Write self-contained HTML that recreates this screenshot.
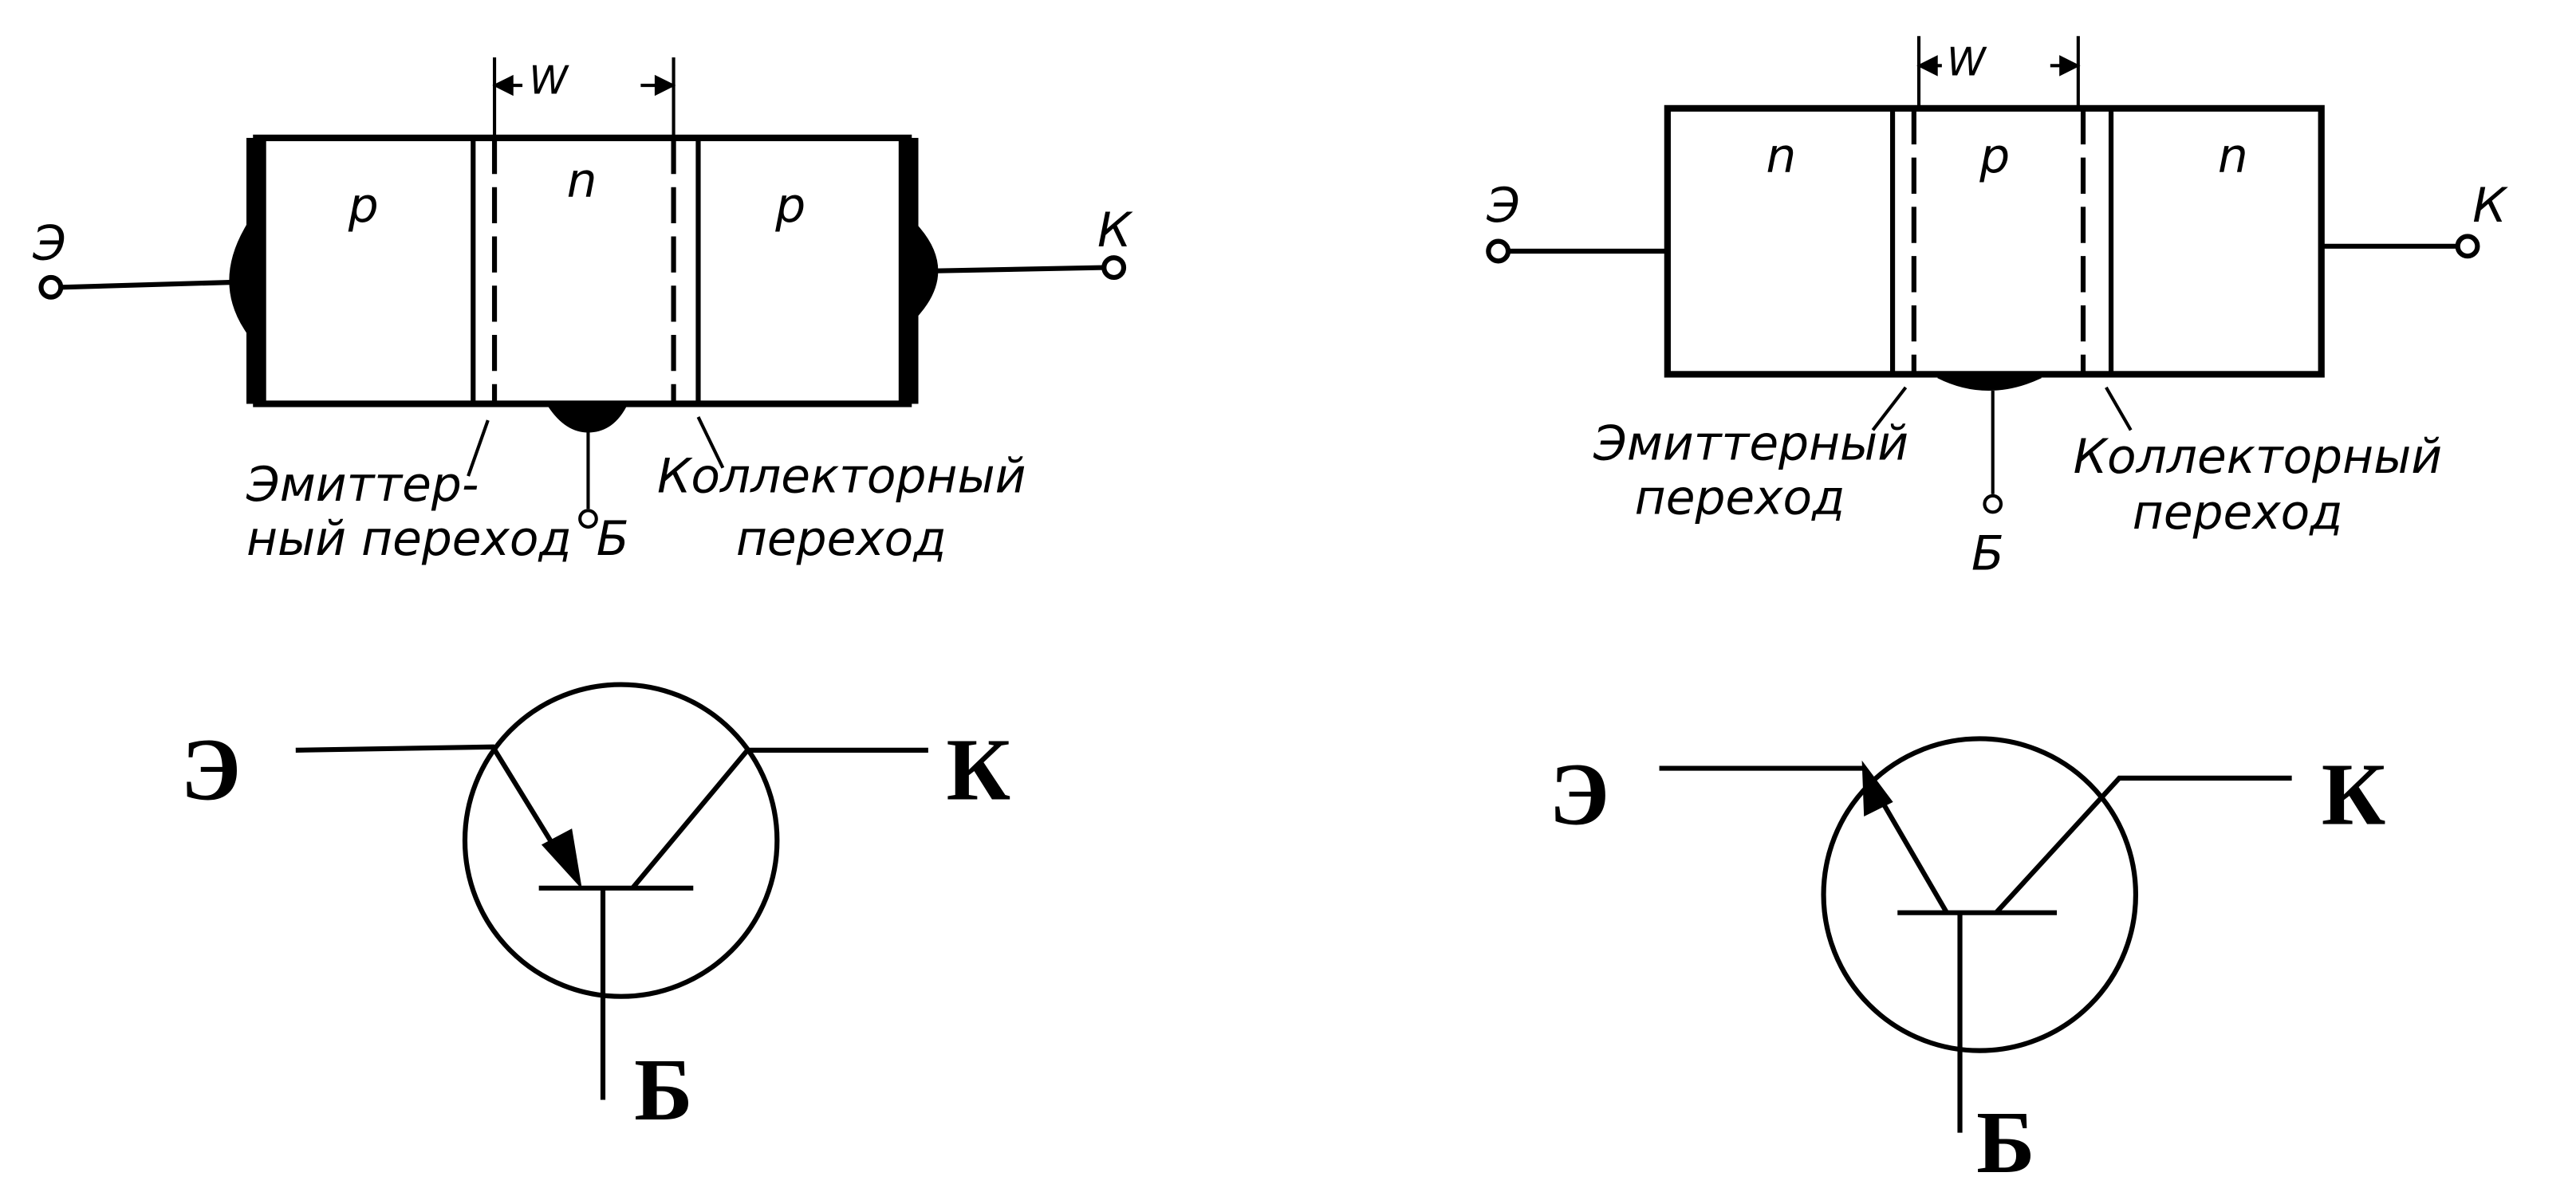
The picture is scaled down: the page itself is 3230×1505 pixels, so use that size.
<!DOCTYPE html>
<html><head><meta charset="utf-8"><style>
html,body{margin:0;padding:0;background:#fff;width:3230px;height:1505px;overflow:hidden}
svg{display:block}
.it{font-family:"DejaVu Sans","Liberation Sans",sans-serif;font-style:italic;font-size:29px;fill:#000}
.bl{font-family:"Liberation Serif",serif;font-weight:bold;font-size:54px;fill:#000}
</style></head><body>
<svg width="3230" height="1505" viewBox="0 0 1568 731" preserveAspectRatio="none" xmlns="http://www.w3.org/2000/svg">
<g stroke="#000" fill="none" stroke-width="3">
<rect x="156" y="84" width="397" height="162" stroke-width="4"/>
<rect x="150" y="84" width="12" height="162" fill="#000" stroke="none"/>
<rect x="547" y="84" width="12" height="162" fill="#000" stroke="none"/>
<path d="M150 140 Q132 172 150 200 Z" fill="#000"/>
<path d="M559 140 Q580 165 559 190 Z" fill="#000"/>
<line x1="288" y1="84" x2="288" y2="246"/>
<line x1="425" y1="84" x2="425" y2="246"/>
<line x1="301" y1="84" x2="301" y2="246" stroke-dasharray="22 8"/>
<line x1="410" y1="84" x2="410" y2="246" stroke-dasharray="22 8"/>
<line x1="301" y1="35" x2="301" y2="84" stroke-width="2"/>
<line x1="410" y1="35" x2="410" y2="84" stroke-width="2"/>
<line x1="303" y1="52" x2="318" y2="52" stroke-width="2"/><line x1="390" y1="52" x2="408" y2="52" stroke-width="2"/>
<path d="M303 52 l8 -4 v8 z M408 52 l-8 -4 v8z" fill="#000"/>
<line x1="37" y1="175" x2="140" y2="172"/>
<circle cx="31" cy="175" r="6" fill="#fff"/>
<line x1="570" y1="165" x2="672" y2="163"/>
<circle cx="678" cy="163" r="6" fill="#fff"/>
<path d="M335 247 Q345 262 358 262 Q372 262 380 247 Z" fill="#000"/>
<line x1="358" y1="260" x2="358" y2="310" stroke-width="2"/>
<circle cx="358" cy="316" r="5" fill="#fff" stroke-width="2"/>
<line x1="297" y1="256" x2="285" y2="290" stroke-width="2"/>
<line x1="425" y1="254" x2="440" y2="285" stroke-width="2"/>
<rect x="1015" y="66" width="398" height="162" stroke-width="4"/>
<line x1="1152" y1="66" x2="1152" y2="228"/>
<line x1="1285" y1="66" x2="1285" y2="228"/>
<line x1="1165" y1="66" x2="1165" y2="228" stroke-dasharray="22 8"/>
<line x1="1268" y1="66" x2="1268" y2="228" stroke-dasharray="22 8"/>
<line x1="1168" y1="22" x2="1168" y2="66" stroke-width="2"/>
<line x1="1265" y1="22" x2="1265" y2="66" stroke-width="2"/>
<line x1="1170" y1="40" x2="1182" y2="40" stroke-width="2"/><line x1="1248" y1="40" x2="1263" y2="40" stroke-width="2"/>
<path d="M1170 40 l8 -4 v8 z M1263 40 l-8 -4 v8z" fill="#000"/>
<line x1="918" y1="153" x2="1015" y2="153"/>
<circle cx="912" cy="153" r="6" fill="#fff"/>
<line x1="1413" y1="150" x2="1496" y2="150"/>
<circle cx="1502" cy="150" r="6" fill="#fff"/>
<path d="M1180 229 Q1210 244 1242 229 Z" fill="#000"/>
<line x1="1213" y1="238" x2="1213" y2="301" stroke-width="2"/>
<circle cx="1213" cy="307" r="5" fill="#fff" stroke-width="2"/>
<line x1="1160" y1="236" x2="1140" y2="262" stroke-width="2"/>
<line x1="1282" y1="236" x2="1297" y2="262" stroke-width="2"/>
<circle cx="378" cy="512" r="95"/>
<polyline points="180,457 300,455 343,525"/>
<path d="M352 537 L332 515 L347 507 Z" fill="#000"/>
<line x1="328" y1="541" x2="422" y2="541"/>
<line x1="367" y1="541" x2="367" y2="670"/>
<polyline points="385,541 455,457 565,457"/>
<circle cx="1205" cy="545" r="95"/>
<polyline points="1010,468 1135,468"/>
<line x1="1185" y1="556" x2="1142" y2="482"/>
<path d="M1135 468 L1150 488 L1136 495 Z" fill="#000"/>
<line x1="1155" y1="556" x2="1252" y2="556"/>
<line x1="1193" y1="556" x2="1193" y2="690"/>
<polyline points="1215,556 1290,474 1395,474"/>
</g>
<g class="it">
<text x="212" y="135">p</text><text x="345" y="120">n</text><text x="472" y="135">p</text>
<text x="322" y="57" font-size="24">W</text>
<text x="20" y="158">Э</text><text x="668" y="150">К</text>
<text x="150" y="305">Эмиттер-</text>
<text x="150" y="338">ный переход</text><text x="363" y="338">Б</text>
<text x="400" y="300">Коллекторный</text>
<text x="448" y="338">переход</text>
<text x="1075" y="105">n</text><text x="1205" y="105">p</text><text x="1350" y="105">n</text>
<text x="1185" y="46" font-size="24">W</text>
<text x="905" y="135">Э</text><text x="1505" y="135">К</text>
<text x="970" y="280">Эмиттерный</text>
<text x="995" y="313">переход</text>
<text x="1262" y="288">Коллекторный</text>
<text x="1298" y="322">переход</text>
<text x="1200" y="347">Б</text>
</g>
<g class="bl">
<text x="110" y="487">Э</text><text x="576" y="487">К</text><text x="386" y="682">Б</text>
<text x="943" y="502">Э</text><text x="1413" y="502">К</text><text x="1203" y="714">Б</text>
</g>
</svg>
</body></html>
